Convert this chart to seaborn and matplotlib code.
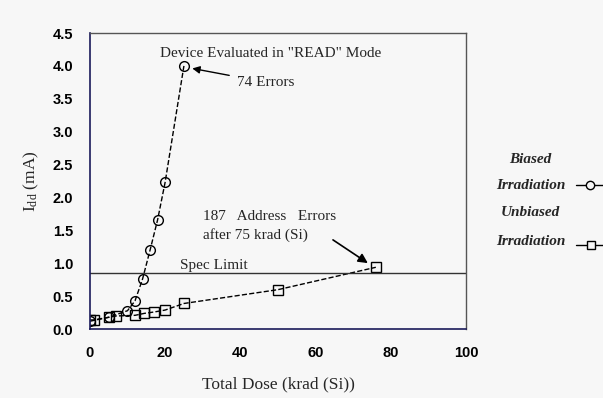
import seaborn as sns
import pandas as pd
import matplotlib.pyplot as plt

# dane
dose_biased = [0, 5, 10, 12, 14, 16, 18, 20, 25]
idd_biased = [0.12, 0.18, 0.28, 0.43, 0.76, 1.2, 1.66, 2.23, 4.0]

dose_unbiased = [0, 1, 5, 7, 12, 14.5, 17, 20, 25, 50, 76]
idd_unbiased = [0.14, 0.14, 0.18, 0.2, 0.21, 0.24, 0.26, 0.29, 0.39, 0.6, 0.94]

spec_limit = 0.85
x_ticks = [0, 20, 40, 60, 80, 100]
y_ticks = [0.0, 0.5, 1.0, 1.5, 2.0, 2.5, 3.0, 3.5, 4.0, 4.5]

sns.set_style("white")
plt.rcParams['font.family'] = ['Liberation Serif', 'DejaVu Serif']

fig = plt.figure(figsize=(6.03, 3.98), dpi=100)
fig.patch.set_facecolor('#f7f7f7')
ax = fig.add_axes([0.149, 0.173, 0.624, 0.744])
ax.set_facecolor('#f7f7f7')

biased = pd.DataFrame({'dose': dose_biased, 'idd': idd_biased})
unbiased = pd.DataFrame({'dose': dose_unbiased, 'idd': idd_unbiased})

sns.lineplot(data=biased, x='dose', y='idd', ax=ax, color='black', linestyle='--',
             linewidth=1, marker='o', markersize=7, markerfacecolor='none',
             markeredgecolor='black', markeredgewidth=1)
sns.lineplot(data=unbiased, x='dose', y='idd', ax=ax, color='black', linestyle='--',
             linewidth=1, marker='s', markersize=7, markerfacecolor='none',
             markeredgecolor='black', markeredgewidth=1)

ax.axhline(spec_limit, color='#333333', linewidth=1)
ax.text(24, spec_limit + 0.07, 'Spec Limit', fontsize=11)

ax.text(48, 4.13, 'Device Evaluated in "READ" Mode', fontsize=11, ha='center')
ax.annotate('74 Errors', xy=(26.5, 3.97), xytext=(39, 3.7), fontsize=11,
            arrowprops=dict(arrowstyle='-|>', color='black', lw=1, shrinkA=3))
ax.text(30, 1.38, '187   Address   Errors\nafter 75 krad (Si)', fontsize=11,
        ha='left', linespacing=1.4)
ax.annotate('', xy=(74.5, 0.98), xytext=(64, 1.38),
            arrowprops=dict(arrowstyle='-|>', color='black', lw=1.2, mutation_scale=14))

ax.set_xlim(0, 100)
ax.set_ylim(0, 4.5)
ax.set_xticks(x_ticks)
ax.set_yticks(y_ticks)
ax.set_yticklabels([f'{v:.1f}' for v in y_ticks])
ax.tick_params(direction='out', length=4, width=1, colors='black', pad=8)
for lab in ax.get_xticklabels() + ax.get_yticklabels():
    lab.set_family(['Liberation Sans', 'DejaVu Sans'])
    lab.set_fontweight('bold')
    lab.set_fontsize(10.5)

ax.set_xlabel('Total Dose (krad (Si))', fontsize=12.5, labelpad=12)
ax.set_ylabel('I$\\mathregular{_{dd}}$ (mA)', fontsize=12.5, labelpad=8)

for s in ['left', 'bottom']:
    ax.spines[s].set_color('#1a1a5a')
    ax.spines[s].set_linewidth(1.2)
for s in ['top', 'right']:
    ax.spines[s].set_color('#555555')
    ax.spines[s].set_linewidth(1)

# legenda poza osiami
leg_font = dict(fontsize=11, style='italic', fontweight='bold', ha='center', va='center')
fig.text(0.880, 0.598, 'Biased', **leg_font)
fig.text(0.880, 0.535, 'Irradiation', **leg_font)
fig.text(0.880, 0.465, 'Unbiased', **leg_font)
fig.text(0.880, 0.392, 'Irradiation', **leg_font)
fig.lines.append(plt.Line2D([0.955, 1.0], [0.535, 0.535], transform=fig.transFigure,
                            color='black', lw=1))
fig.lines.append(plt.Line2D([0.978], [0.535], transform=fig.transFigure, color='black',
                            marker='o', markersize=6, markerfacecolor='#f7f7f7',
                            linestyle='none'))
fig.lines.append(plt.Line2D([0.955, 1.0], [0.385, 0.385], transform=fig.transFigure,
                            color='black', lw=1))
fig.lines.append(plt.Line2D([0.98], [0.385], transform=fig.transFigure, color='black',
                            marker='s', markersize=6, markerfacecolor='#f7f7f7',
                            linestyle='none'))

fig.savefig('out.png', dpi=100, facecolor=fig.get_facecolor())
